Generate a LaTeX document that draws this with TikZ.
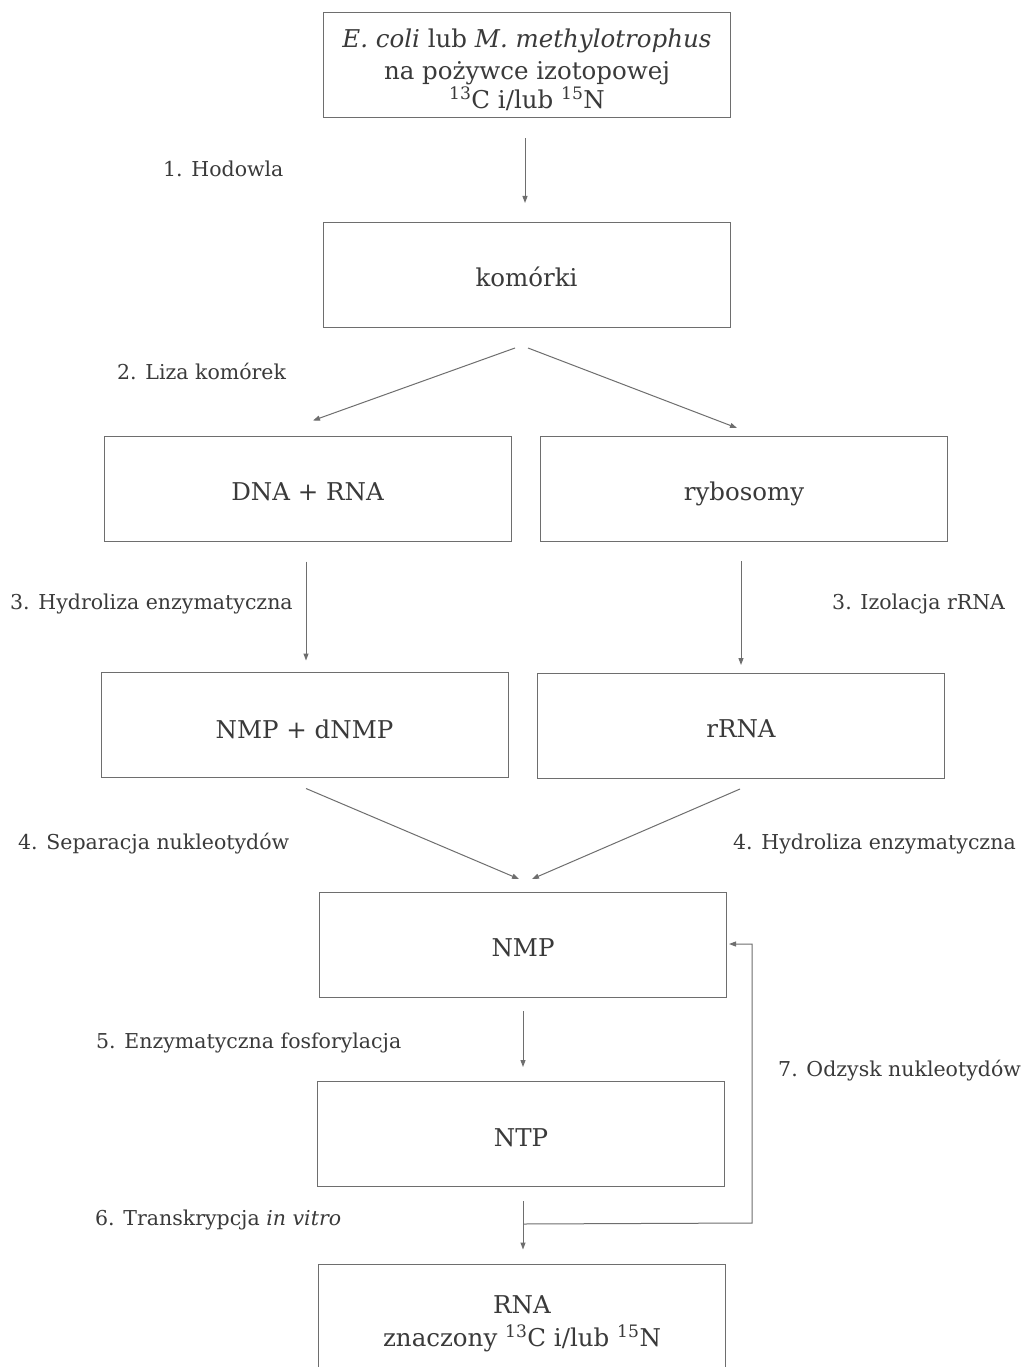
\documentclass[tikz,border=0pt]{standalone}
\usepackage{fontspec}
\setmainfont{DejaVu Serif}
\usetikzlibrary{arrows.meta,calc}
\definecolor{ln}{HTML}{6E6E6E}
\definecolor{tx}{HTML}{3A3A3A}
\newcommand{\lowr}[2][12pt]{\raisebox{-#1}[0pt][0pt]{\begin{tabular}{@{}c@{}}#2\end{tabular}}}
\begin{document}
\begin{tikzpicture}[x=1pt,y=-1pt,
  box/.style={draw=ln, line width=1pt, minimum width=407pt, minimum height=105pt,
    text=tx, font=\fontsize{24.5}{30}\selectfont, align=center, inner sep=0pt},
  lbl/.style={text=tx, font=\fontsize{20.5}{24}\selectfont, anchor=base west, inner sep=0pt},
  arr/.style={draw=ln, line width=1pt, -{Triangle[length=7pt,width=5pt]}}]
\useasboundingbox (0,0) rectangle (1028,1367);
\fill[white] (0,0) rectangle (1028,1367);

\node[box] (b1) at (527,65.5) {\lowr[12.5pt]{\textit{E. coli} lub \textit{M. methylotrophus}\\[2.5pt]na pożywce izotopowej\\[-2pt]\textsuperscript{13}C i/lub \textsuperscript{15}N}};
\node[box] (b2) at (526.5,275) {\lowr{komórki}};
\node[box] (b3) at (307.5,488.5) {\lowr{DNA + RNA}};
\node[box] (b4) at (744,489) {\lowr{rybosomy}};
\node[box] (b5) at (304.5,724.5) {\lowr[14pt]{NMP + dNMP}};
\node[box] (b6) at (741,726) {\lowr{rRNA}};
\node[box] (b7) at (523,945) {\lowr{NMP}};
\node[box] (b8) at (521,1134) {\lowr[13pt]{NTP}};
\node[box, minimum height=112pt] (b9) at (522,1320) {\lowr[10.5pt]{RNA\\[2pt]znaczony \textsuperscript{13}C i/lub \textsuperscript{15}N}};

\draw[arr] ($(b1.south)+(-2,20)$) -- ($(b2.north)+(-1.5,-19)$);
\draw[arr] ($(b2.south)+(-11.5,20)$) -- ($(b3.north)+(5.5,-15)$);
\draw[arr] ($(b2.south)+(1.5,20)$) -- ($(b4.north)+(-7,-8)$);
\draw[arr] ($(b3.south)+(-1.5,20)$) -- ($(b5.north)+(1.5,-11)$);
\draw[arr] ($(b4.south)+(-3,19)$) -- ($(b6.north)+(0,-8)$);
\draw[arr] ($(b5.south)+(1.5,11)$) -- ($(b7.north)+(-4,-13)$);
\draw[arr] ($(b6.south)+(-1,10)$) -- ($(b7.north)+(9,-13)$);
\draw[arr] ($(b7.south)+(0,13)$) -- ($(b8.north)+(2,-14)$);
\draw[arr] ($(b8.south)+(2,14)$) -- ($(b9.north)+(1,-14)$);
\coordinate (fb) at ($(b8.south)+(2,37)$);
\draw[arr] (fb) -- (752,1223) -- (752,944) -- ($(b7.east)+(2,-1)$);

\node[lbl] (l1) at (163,177) {1. Hodowla};
\node[lbl] (l2) at (117,379) {2. Liza komórek};
\node[lbl] (l3a) at (10,609) {3. Hydroliza enzymatyczna};
\node[lbl] (l3b) at (832,609) {3. Izolacja rRNA};
\node[lbl] (l4a) at (18,849) {4. Separacja nukleotydów};
\node[lbl] (l4b) at (733,849) {4. Hydroliza enzymatyczna};
\node[lbl] (l5) at (96,1048) {5. Enzymatyczna fosforylacja};
\node[lbl] (l6) at (95,1225) {6. Transkrypcja \textit{in vitro}};
\node[lbl] (l7) at (778,1076) {7. Odzysk nukleotydów};
\end{tikzpicture}
\end{document}
